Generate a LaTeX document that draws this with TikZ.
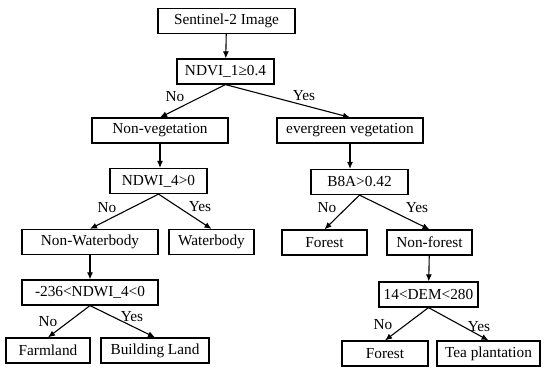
\documentclass[tikz,border=0pt]{standalone}
\usepackage{fontspec}
\setmainfont{Liberation Serif}
\usetikzlibrary{arrows.meta}
\begin{document}
\begin{tikzpicture}[x=1pt,y=-1pt,
  box/.style={draw,line width=1.2pt,inner sep=0pt,minimum height=25pt,font=\fontsize{15.3}{17}\selectfont},
  lbl/.style={inner sep=0pt,font=\fontsize{15.3}{17}\selectfont},
  arr/.style={line width=1.1pt,-{Latex[length=7pt,width=6pt]}}]
\useasboundingbox (0,0) rectangle (550,378);
\node[box,minimum width=137pt] (s) at (226.5,21) {Sentinel-2 Image};
\node[box,minimum width=97pt] (ndvi) at (225.5,71.5) {NDVI\_1≥0.4};
\node[box,minimum width=136pt] (nv) at (160,130.5) {Non-vegetation};
\node[box,minimum width=146pt] (ev) at (350,130.5) {evergreen vegetation};
\node[box,minimum width=97pt] (ndwi) at (158.5,181) {NDWI\_4>0};
\node[box,minimum width=97pt] (b8a) at (359.5,182) {B8A>0.42};
\node[box,minimum width=136pt] (nw) at (90,242) {Non-Waterbody};
\node[box,minimum width=85pt] (wb) at (211.5,242) {Waterbody};
\node[box,minimum width=85pt] (f1) at (324.5,242.5) {Forest};
\node[box,minimum width=85pt] (nf) at (429.5,242.5) {Non-forest};
\node[box,minimum width=136pt] (ndwir) at (90,292.5) {-236<NDWI\_4<0};
\node[box,minimum width=99pt] (dem) at (428.5,294.5) {14<DEM<280};
\node[box,minimum width=84pt] (fl) at (48,350.5) {Farmland};
\node[box,minimum width=108pt] (bl) at (155,350.5) {Building Land};
\node[box,minimum width=86pt] (f2) at (385,353.5) {Forest};
\node[box,minimum width=103pt] (tp) at (488.5,353.5) {Tea plantation};
\draw[arr] (s) -- (ndvi);
\draw[arr] (ndvi.south) -- (nv.north);
\draw[arr] (ndvi.south) -- (ev.north);
\draw[arr] (nv) -- (nv|-ndwi.north);
\draw[arr] (ev) -- (ev|-b8a.north);
\draw[arr] (ndwi.south) -- (nw.north);
\draw[arr] (ndwi.south) -- (wb.north);
\draw[arr] (b8a.south) -- (f1.north);
\draw[arr] (b8a.south) -- (nf.north);
\draw[arr] (nw) -- (ndwir);
\draw[arr] (nf) -- (dem);
\draw[arr] (ndwir.south) -- (fl.north);
\draw[arr] (ndwir.south) -- (bl.north);
\draw[arr] (dem.south) -- (f2.north);
\draw[arr] (dem.south) -- (tp.north);
\node[lbl] (n1) at (175,97) {No};
\node[lbl] (y1) at (304,96) {Yes};
\node[lbl] (n2) at (107,208) {No};
\node[lbl] (y2) at (200,207) {Yes};
\node[lbl] (n3) at (327,208) {No};
\node[lbl] (y3) at (417,208) {Yes};
\node[lbl] (n4) at (48,322) {No};
\node[lbl] (y4) at (132,317) {Yes};
\node[lbl] (n5) at (383,325) {No};
\node[lbl] (y5) at (479,327) {Yes};
\end{tikzpicture}
\end{document}
